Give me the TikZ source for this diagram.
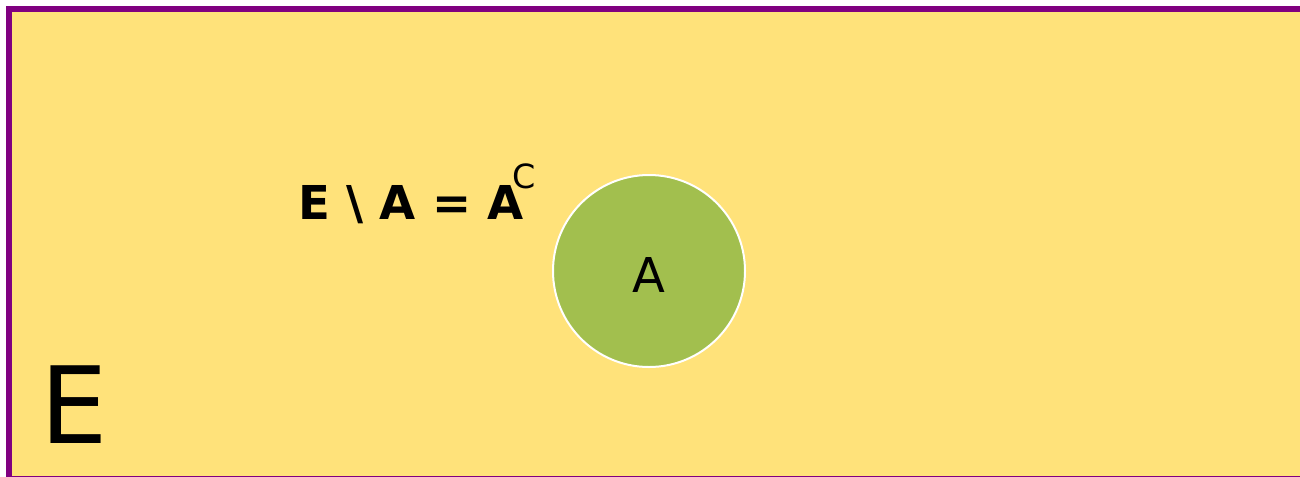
\documentclass[tikz,border=0pt]{standalone}
\usepackage{fontspec}
\setmainfont{DejaVu Sans}
\definecolor{Frame}{RGB}{128,0,128}
\definecolor{Ground}{RGB}{255,226,122}
\definecolor{SetA}{RGB}{162,191,78}
\usetikzlibrary{positioning}
\begin{document}
\begin{tikzpicture}[x=0.75pt,y=-0.75pt,
  every node/.style={inner sep=0pt,text=black}]
  \useasboundingbox (0,0) rectangle (1300,476);
  \fill[Ground,draw=Frame,line width=4.5pt] (9,9) rectangle (1306,479);
  \node[circle,fill=SetA,draw=white,line width=1.5pt,minimum size=144pt,
        text height=31.5pt,text depth=0pt,
        font=\fontsize{36}{36}\selectfont] (setA) at (649,271) {A};
  \node[anchor=base west,font=\fontsize{35}{35}\selectfont\bfseries] (diff) at (298,219)
    {E \textbackslash{} A = A\hspace{-8.5pt}\raisebox{23pt}{\mdseries\fontsize{25}{25}\selectfont C}};
  \node[anchor=base west,font=\fontsize{80}{80}\selectfont] (univ) at (40,443) {E};
\end{tikzpicture}
\end{document}
